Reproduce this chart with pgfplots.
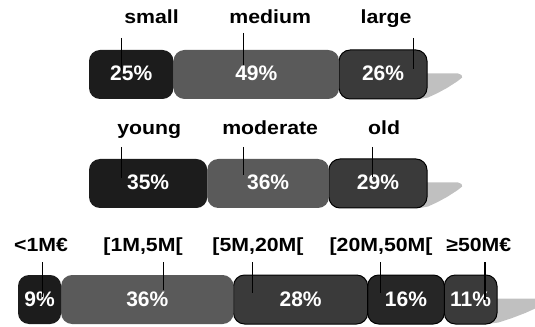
\documentclass[border=0pt]{standalone}
\usepackage{pgfplots}
\pgfplotsset{compat=1.18}
\usepackage{fontspec}
\setmainfont{Liberation Sans}
\newfontfamily\lblfont[FakeStretch=1.12]{Liberation Sans}

\definecolor{segA}{HTML}{1C1C1C}
\definecolor{segB}{HTML}{5A5A5A}
\definecolor{segC}{HTML}{3A3A3A}
\definecolor{segD}{HTML}{262626}
\definecolor{shade}{HTML}{C0C0C0}

\pgfplotsset{
  row/.style={scale only axis, height=49bp, xmin=0, xmax=100,
    ymin=-24.5, ymax=24.5, hide axis, clip=false, anchor=south west},
  seg/.style={fill=#1, draw=none, rounded corners=11bp},
  segb/.style={fill=#1, draw=black, line width=1bp, rounded corners=11bp},
  shadow/.style={fill=shade, draw=none},
}
\tikzset{
  cat/.style={font=\lblfont\bfseries\fontsize{19bp}{22bp}\selectfont,
    anchor=base, inner sep=0pt},
  pct/.style={font=\bfseries\fontsize{21bp}{25bp}\selectfont,
    text=white, anchor=base, inner sep=0pt},
  lead/.style={draw=black, line width=1.1bp},
}
% cast shadow behind the right end of a bar
\newcommand\barshadow{%
  \addplot[shadow] coordinates {(97.9,1) (109.2,1) (110.2,-0.5)
    (110.4,-3) (108.9,-7) (105.9,-13.5) (103.0,-18.8) (100.3,-23) (97.9,-24.5)} -- cycle;}

\begin{document}
\begin{tikzpicture}
\useasboundingbox (0,0) rectangle (535bp,327bp);
\clip (0,0) rectangle (535bp,327bp);

% ---------- company size ----------
\begin{axis}[row, at={(89bp,228bp)}, width=338bp]
  \barshadow
\end{axis}
\begin{axis}[row, at={(89bp,228bp)}, width=338bp, xbar stacked, bar width=49bp]
  \addplot[seg=segA]  coordinates {(25,0)};
  \addplot[seg=segB]  coordinates {(49,0)};
  \addplot[segb=segC] coordinates {(26,0)};
\end{axis}
\begin{axis}[row, at={(89bp,228bp)}, width=338bp]
  \node[pct] at (axis cs:12.5,-6.5) {25\%};
  \node[pct] at (axis cs:49.5,-6.5) {49\%};
  \node[pct] at (axis cs:87,-6.5)   {26\%};
  \draw[lead] (axis cs:9.5,36.5)  -- (axis cs:9.5,4.5);
  \draw[lead] (axis cs:45.6,41.5) -- (axis cs:45.6,9.5);
  \draw[lead] (axis cs:95.9,36.5) -- (axis cs:95.9,5.5);
  \node[cat] at (axis cs:18.5,50.5) {small};
  \node[cat] at (axis cs:53.6,50.5) {medium};
  \node[cat] at (axis cs:87.9,50.5) {large};
\end{axis}

% ---------- company age ----------
\begin{axis}[row, at={(89bp,119bp)}, width=338bp]
  \barshadow
\end{axis}
\begin{axis}[row, at={(89bp,119bp)}, width=338bp, xbar stacked, bar width=49bp]
  \addplot[seg=segA]  coordinates {(35,0)};
  \addplot[seg=segB]  coordinates {(36,0)};
  \addplot[segb=segC] coordinates {(29,0)};
\end{axis}
\begin{axis}[row, at={(89bp,119bp)}, width=338bp]
  \node[pct] at (axis cs:17.5,-6.5) {35\%};
  \node[pct] at (axis cs:53,-6.5)   {36\%};
  \node[pct] at (axis cs:85.5,-6.5) {29\%};
  \draw[lead] (axis cs:9.5,36.5)  -- (axis cs:9.5,5.5);
  \draw[lead] (axis cs:45.6,36.5) -- (axis cs:45.6,8.5);
  \draw[lead] (axis cs:84,36.5)   -- (axis cs:84,6.5);
  \node[cat] at (axis cs:17.8,49.5) {young};
  \node[cat] at (axis cs:53.6,49.5) {moderate};
  \node[cat] at (axis cs:87.3,49.5) {old};
\end{axis}

% ---------- turnover ----------
\begin{axis}[row, at={(18bp,3bp)}, width=479bp]
  \barshadow
\end{axis}
\begin{axis}[row, at={(18bp,3bp)}, width=479bp, xbar stacked, bar width=49bp]
  \addplot[seg=segA]  coordinates {(9,0)};
  \addplot[seg=segB]  coordinates {(36,0)};
  \addplot[segb=segC] coordinates {(28,0)};
  \addplot[segb=segD] coordinates {(16,0)};
  \addplot[segb=segC] coordinates {(11,0)};
\end{axis}
\begin{axis}[row, at={(18bp,3bp)}, width=479bp]
  \node[pct] at (axis cs:4.5,-6.5)  {9\%};
  \node[pct] at (axis cs:27,-6.5)   {36\%};
  \node[pct] at (axis cs:59,-6.5)   {28\%};
  \node[pct] at (axis cs:81,-6.5)   {16\%};
  \node[pct] at (axis cs:94.5,-6.5) {11\%};
  \draw[lead] (axis cs:5.2,37.5)  -- (axis cs:5.2,2.5);
  \draw[lead] (axis cs:30.3,37.5) -- (axis cs:30.3,9.5);
  \draw[lead] (axis cs:48.9,37.5) -- (axis cs:48.9,6.5);
  \draw[lead] (axis cs:75.6,37.5) -- (axis cs:75.6,6.5);
  \draw[lead] (axis cs:97.5,37.5) -- (axis cs:97.5,-0.5);
  \node[cat] at (axis cs:4.8,48.5)  {<1M€};
  \node[cat] at (axis cs:26.1,48.5) {[1M,5M[};
  \node[cat] at (axis cs:50.1,48.5) {[5M,20M[};
  \node[cat] at (axis cs:75.8,48.5) {[20M,50M[};
  \node[cat] at (axis cs:96.2,48.5) {≥50M€};
\end{axis}
\end{tikzpicture}
\end{document}
